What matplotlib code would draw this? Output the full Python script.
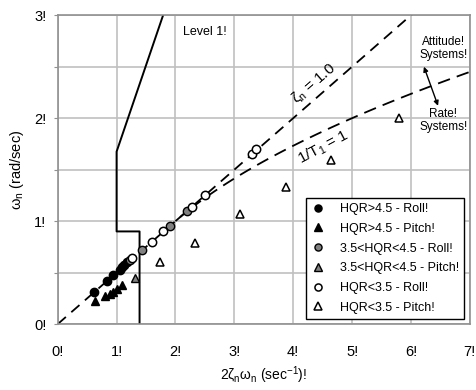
import numpy as np
import matplotlib
matplotlib.use("Agg")
import matplotlib.pyplot as plt

plt.rcParams['font.family'] = ['Liberation Sans', 'DejaVu Sans']
plt.rcParams['mathtext.fontset'] = 'custom'
plt.rcParams['mathtext.rm'] = 'Liberation Sans'
plt.rcParams['mathtext.it'] = 'Liberation Sans'
plt.rcParams['mathtext.bf'] = 'Liberation Sans:bold'

# data
roll_hi_x = [0.62, 0.83, 0.94, 1.05, 1.09, 1.13, 1.18]
roll_hi_y = [0.31, 0.42, 0.48, 0.53, 0.55, 0.57, 0.60]
pitch_hi_x = [0.64, 0.81, 0.88, 0.94, 1.00, 1.10]
pitch_hi_y = [0.22, 0.27, 0.29, 0.31, 0.34, 0.38]
roll_mid_x = [1.23, 1.44, 1.90, 2.20]
roll_mid_y = [0.62, 0.72, 0.95, 1.10]
pitch_mid_x = [1.31]
pitch_mid_y = [0.45]
roll_lo_x = [1.27, 1.60, 1.79, 2.28, 2.50, 3.30, 3.37]
roll_lo_y = [0.64, 0.80, 0.90, 1.14, 1.25, 1.65, 1.70]
pitch_lo_x = [1.74, 2.33, 3.09, 3.87, 4.64, 5.80]
pitch_lo_y = [0.60, 0.79, 1.07, 1.33, 1.59, 2.00]

# Level 1 boundary
bound_x = [1.39, 1.39, 1.0, 1.0, 1.79]
bound_y = [0.0, 0.9, 0.9, 1.675, 3.0]

fig = plt.figure(figsize=(4.77, 3.9), dpi=100)
ax = fig.add_axes([0.121, 0.169, 0.864, 0.792])

# zeta = 1 line and 1/T1 = 1 curve
zx = np.linspace(0, 7, 50)
ax.plot(zx, zx / 2, color='black', lw=1.3, ls=(0, (6, 4)), zorder=2)
tx = np.linspace(2, 7, 100)
ax.plot(tx, np.sqrt(tx - 1), color='black', lw=1.3, ls=(0, (7, 4)), zorder=2)
ax.plot(bound_x, bound_y, color='black', lw=1.4, zorder=2)

ms = 6
ax.plot(roll_hi_x, roll_hi_y, 'o', mfc='black', mec='black', ms=ms, ls='none',
        label='HQR>4.5 - Roll!', zorder=3)
ax.plot(pitch_hi_x, pitch_hi_y, '^', mfc='black', mec='black', ms=ms, ls='none',
        label='HQR>4.5 - Pitch!', zorder=3)
ax.plot(roll_mid_x, roll_mid_y, 'o', mfc='#808080', mec='black', ms=ms, ls='none',
        label='3.5<HQR<4.5 - Roll!', zorder=3)
ax.plot(pitch_mid_x, pitch_mid_y, '^', mfc='#808080', mec='black', ms=ms, ls='none',
        label='3.5<HQR<4.5 - Pitch!', zorder=3)
ax.plot(roll_lo_x, roll_lo_y, 'o', mfc='white', mec='black', ms=ms, mew=1.1, ls='none',
        label='HQR<3.5 - Roll!', zorder=3)
ax.plot(pitch_lo_x, pitch_lo_y, '^', mfc='white', mec='black', ms=ms, mew=1.1, ls='none',
        label='HQR<3.5 - Pitch!', zorder=3)

ax.set_xlim(0, 7)
ax.set_ylim(0, 3)
ax.set_xticks(range(8))
ax.set_xticklabels(['%d!' % i for i in range(8)])
ax.set_yticks([0, 0.5, 1, 1.5, 2, 2.5, 3])
ax.set_yticklabels(['0!', '', '1!', '', '2!', '', '3!'])
ax.grid(True, color='#c0c0c0', lw=1.2, zorder=0)
ax.set_axisbelow(True)
for s in ax.spines.values():
    s.set_color('#909090')
    s.set_linewidth(1.2)
ax.tick_params(axis='x', length=0, pad=15, labelsize=10.5)
ax.tick_params(axis='y', length=3, color='#909090', pad=5, labelsize=10.5)

ax.set_xlabel('2$\\zeta_n\\omega_n$ (sec$^{-1}$)!', fontsize=10, labelpad=4)
ax.set_ylabel('$\\omega_n$ (rad/sec)', fontsize=10.5, labelpad=6)

ax.text(2.13, 2.84, 'Level 1!', fontsize=9, va='center', ha='left')
ax.text(4.35, 2.34, '$\\zeta_n$ = 1.0', fontsize=11, rotation=41, ha='center', va='center')
ax.text(4.52, 1.72, '1/T$_1$ = 1', fontsize=11, rotation=28, ha='center', va='center')
ax.text(6.55, 2.68, 'Attitude!\nSystems!', fontsize=8.5, ha='center', va='center',
        linespacing=1.1)
ax.text(6.55, 1.98, 'Rate!\nSystems!', fontsize=8.5, ha='center', va='center',
        linespacing=1.1)
ax.annotate('', xy=(6.22, 2.50), xytext=(6.46, 2.12),
            arrowprops=dict(arrowstyle='<|-|>', color='black', lw=1.0,
                            mutation_scale=7, shrinkA=0, shrinkB=0))

leg = ax.legend(loc='lower right', bbox_to_anchor=(0.99, 0.013), fontsize=9,
                frameon=True, fancybox=False, edgecolor='black', framealpha=1,
                handlelength=1.0, handletextpad=1.3, labelspacing=0.62,
                borderpad=0.4, borderaxespad=0.1, markerscale=0.85)
leg.get_frame().set_linewidth(1.0)

fig.savefig('out.png', dpi=100)
